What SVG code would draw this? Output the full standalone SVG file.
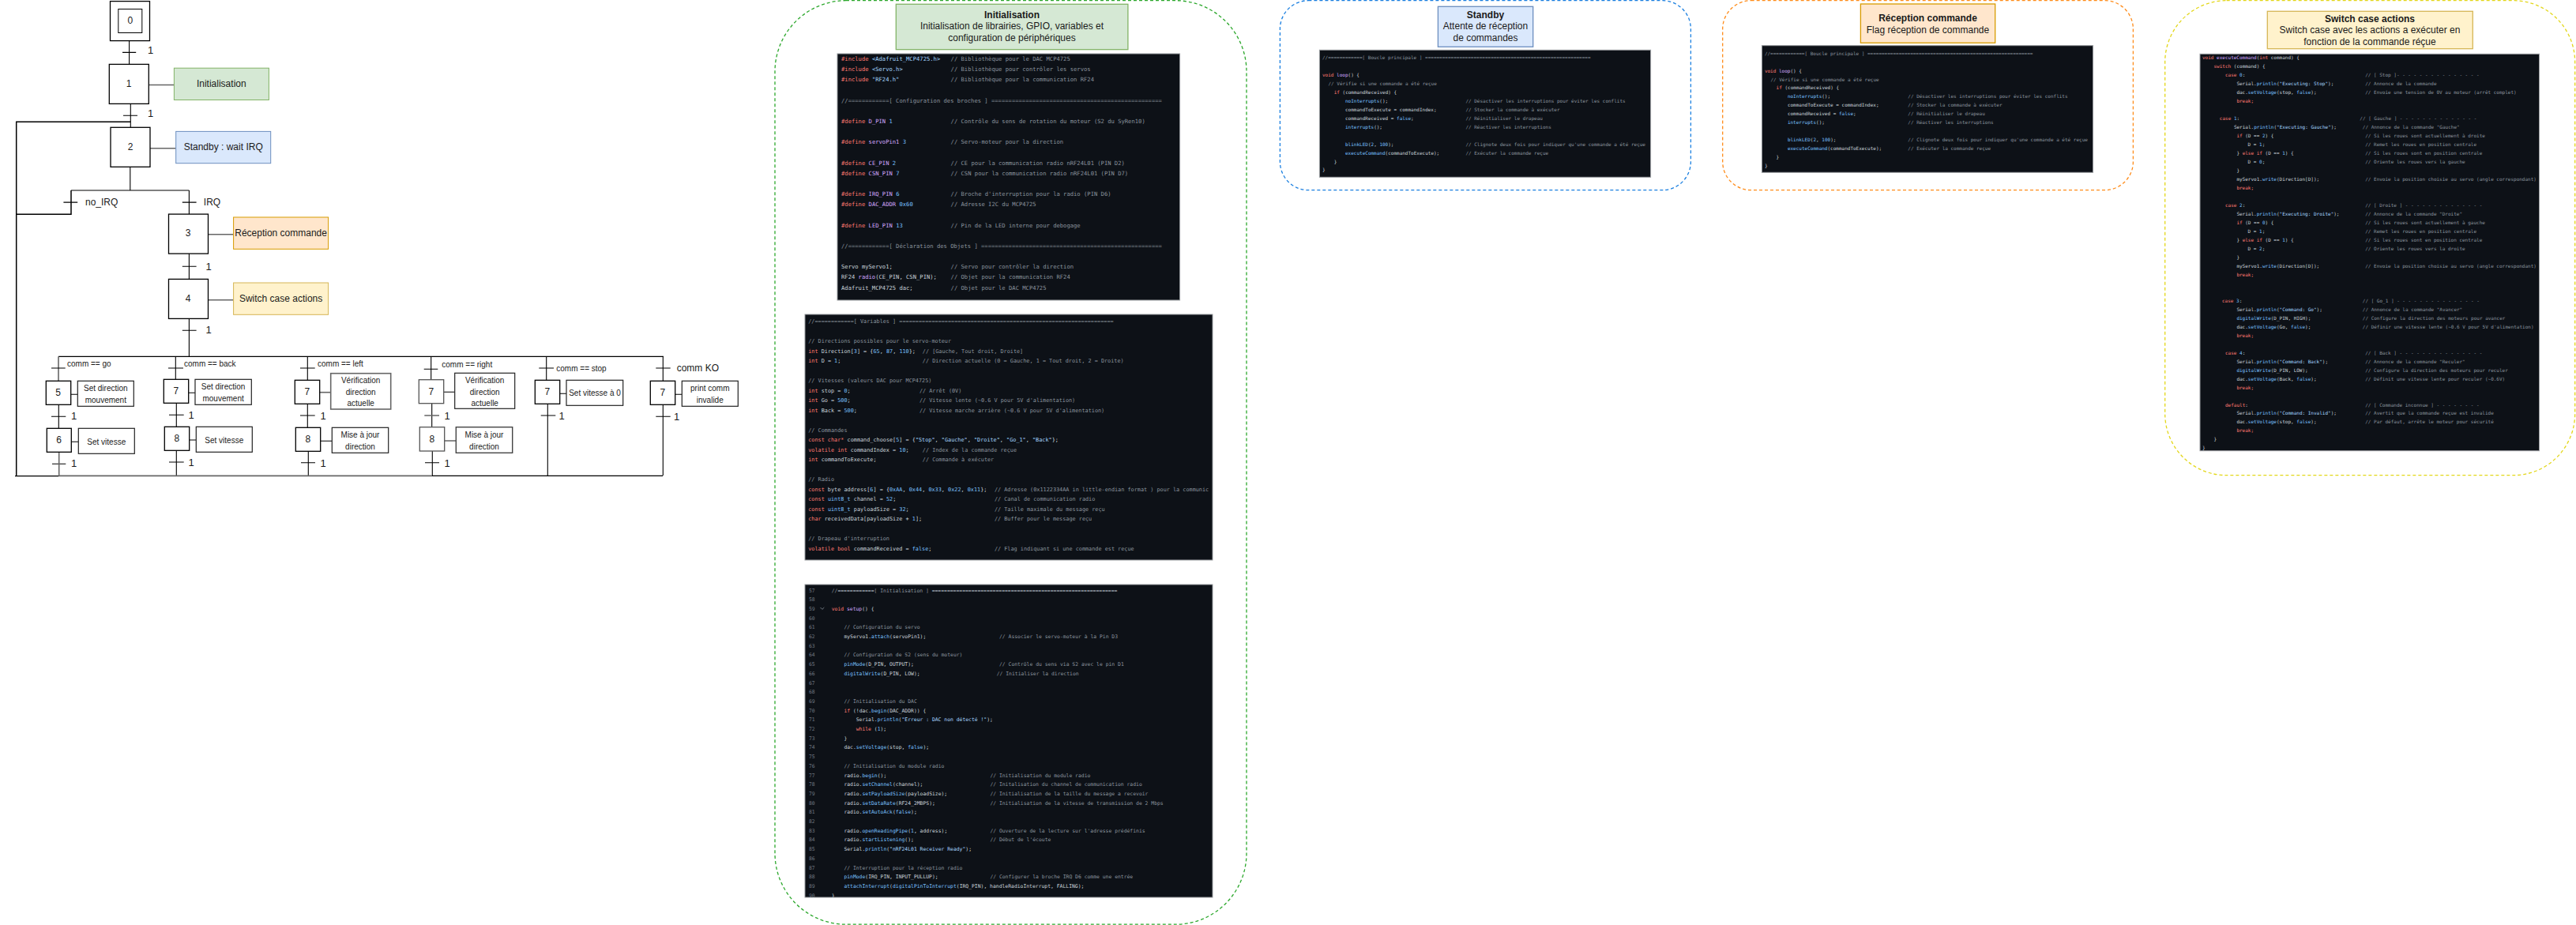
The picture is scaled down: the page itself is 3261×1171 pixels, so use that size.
<svg xmlns="http://www.w3.org/2000/svg" width="3261" height="1171" viewBox="0 0 3261 1171">
<style>
text{font-family:"Liberation Sans",Arial,sans-serif;fill:#1a1a1a}
.sx{fill:#fff;stroke:#000;stroke-width:1.3}
.ax{fill:#fff;stroke:#222;stroke-width:1.2}
.gy{stroke:#666}
.w{fill:none;stroke:#000;stroke-width:1.1}
.wg{fill:none;stroke:#666;stroke-width:1.6}
.t12{font-size:12px;text-anchor:middle}
.t10{font-size:10px;text-anchor:middle}
.l10{font-size:10px}
.l12{font-size:12px}
.l13{font-size:13px}
.b{font-weight:bold}
.grp{fill:none;stroke-width:1.3;stroke-dasharray:4 3}
.cb{fill:#0d1117;stroke:#9a9da1;stroke-width:1}
.m text{font-family:"DejaVu Sans Mono","Liberation Mono",monospace;fill:#c9d1d9}
.m1{font-size:7.18px}.m2{font-size:6.84px}.m3{font-size:6.4px}.m4{font-size:6px}
.m tspan.k,.m text.k{fill:#ff7b72}
.m tspan.f{fill:#d2a8ff}
.m tspan.u{fill:#79c0ff}
.m tspan.s{fill:#a5d6ff}
.m tspan.c,.m text.c{fill:#8b949e}
.m text.ln{fill:#6e7681}
</style>

<g id="connectors">
<path class="w" d="M163.6 51V81.4M155 66.4H172.2"/>
<path class="w" d="M165.3 131V161.3M156 146.2H174"/>
<path class="w" style="stroke-width:1.5" d="M165.3 154.2H20.7V602.3"/>
<path class="w" d="M164.8 211V241M90 241H239.4M239.4 241V271M230.8 256.1H248.6M80.4 256.1H98.2"/>
<path class="w" style="stroke-width:1.5" d="M90 241V271.3H20.7"/>
<path class="w" d="M239.4 321V353.4M230.8 337.2H248.6M239.4 403V451.3M230.8 418.2H248.6"/>
<path class="w" style="stroke-width:1.3" d="M74 451.3H840"/>
<path class="wg" d="M188.3 107.5H220.4M190 187.7H222.7M263.5 296.8H295.6M263.5 379.8H295.6"/>
<path class="wg" d="M74 451.3V482.3"/>
<path class="w" d="M65 466H82.7M74.3 512V542M65 527.3H83.3M89.7 499.3H98.3M90.3 559.3H99.3M66 587.3H83.3"/>
<path class="wg" d="M74.7 572V602"/>
<path class="w" d="M222.3 451.3V480M213 466H232M223.3 510V540M214 525.3H232.7M238.7 497.3H247M239.7 557H248.3M223.3 570V602M214 585H232.7"/>
<path class="w" d="M389.3 451.3V481M380 466H398.7M389.3 511V541M380 526H398.7M405.7 558.3H420.3M390.3 571V602M381 585.7H399"/>
<path class="wg" d="M404.7 496.7H418.7"/>
<path class="w" d="M545.7 451.3V480.7M536.7 467.3H554.3M546.7 510V540.7M561.7 496.3H575.7M547.3 571V602M538 585.7H556"/>
<path class="wg" d="M537.3 526H556M562.7 558H577.3"/>
<path class="w" d="M691.7 451.3V481M682.3 466H701M693.3 511V602M684.7 526H703.3M708.7 498.3H717"/>
<path class="w" d="M839.3 451.3V482M830.3 466H848.7M839.3 512V602M830.3 527.3H848.7M854.7 499.3H863.3"/>
<path class="w" style="stroke-width:1.3" d="M19 602.6H74M547 602.3H839"/>
<path class="wg" d="M74 602.4H547"/>
</g>

<g id="labels" class="l">
<text class="l13" x="187" y="68">1</text>
<text class="l13" x="187" y="148">1</text>
<text class="l12" x="108" y="260">no_IRQ</text>
<text class="l12" x="257.8" y="260">IRQ</text>
<text class="l13" x="260.5" y="342">1</text>
<text class="l13" x="260.5" y="422">1</text>
<text class="l10" x="85" y="464">comm == go</text>
<text class="l10" x="233" y="464">comm == back</text>
<text class="l10" x="402" y="464">comm == left</text>
<text class="l10" x="559.3" y="465">comm == right</text>
<text class="l10" x="704.3" y="469.5">comm == stop</text>
<text class="l12" x="856.7" y="470">comm KO</text>
<text class="l13" x="90" y="531">1</text><text class="l13" x="90" y="591">1</text>
<text class="l13" x="238.5" y="530">1</text><text class="l13" x="238.5" y="589.5">1</text>
<text class="l13" x="405.5" y="530.5">1</text><text class="l13" x="405.5" y="590.5">1</text>
<text class="l13" x="562.5" y="531">1</text><text class="l13" x="562.5" y="590.5">1</text>
<text class="l13" x="707.5" y="531">1</text>
<text class="l13" x="853" y="532">1</text>
</g>

<g id="step0"><rect class="sx" x="139.5" y="1.6" width="50" height="50"/><rect class="sx" style="stroke-width:1" x="149.8" y="11.5" width="30" height="30"/><text class="t12" x="164.8" y="30">0</text></g>
<g id="step1"><rect class="sx" x="138.3" y="81.4" width="50" height="50"/><text class="t12" x="163" y="109.5">1</text></g>
<g id="action-init"><rect fill="#d5e8d4" stroke="#82b366" x="220.4" y="86.2" width="120" height="40.3"/><text class="t12" x="280.3" y="109.5">Initialisation</text></g>
<g id="step2"><rect class="sx" x="140" y="161.3" width="50" height="50"/><text class="t12" x="165" y="189.5">2</text></g>
<g id="action-standby"><rect fill="#dae8fc" stroke="#6c8ebf" x="222.7" y="166.4" width="120" height="40.3"/><text class="t12" x="282.7" y="190">Standby : wait IRQ</text></g>
<g id="step3"><rect class="sx" x="213.5" y="271.1" width="50" height="50"/><text class="t12" x="238" y="299">3</text></g>
<g id="action-reception"><rect fill="#ffe6cc" stroke="#d79b00" x="295.6" y="275" width="120" height="40.3"/><text class="t12" x="355.6" y="298.5">Réception commande</text></g>
<g id="step4"><rect class="sx" x="213.5" y="353.4" width="50" height="50"/><text class="t12" x="238" y="381.5">4</text></g>
<g id="action-switch"><rect fill="#fff2cc" stroke="#d6b656" x="295.6" y="358" width="120" height="40.3"/><text class="t12" x="355.6" y="381.5">Switch case actions</text></g>

<g id="step5"><rect class="sx" x="58.3" y="482.3" width="31.4" height="30"/><text class="t12" x="73.5" y="501">5</text></g>
<g id="act5"><rect class="ax" x="98.3" y="482.3" width="71" height="32"/><text class="t10" x="133.8" y="495">Set direction</text><text class="t10" x="133.8" y="510">mouvement</text></g>
<g id="step6"><rect class="sx" x="59.3" y="542.3" width="31" height="30"/><text class="t12" x="74.5" y="561">6</text></g>
<g id="act6"><rect class="ax" x="99.3" y="542.3" width="71" height="32"/><text class="t10" x="134.8" y="562.5">Set vitesse</text></g>

<g id="step7a"><rect class="sx" x="207.3" y="480.3" width="31.4" height="30"/><text class="t12" x="222.8" y="499">7</text></g>
<g id="act7a"><rect class="ax" x="247" y="480.3" width="71.3" height="32"/><text class="t10" x="282.6" y="493">Set direction</text><text class="t10" x="282.6" y="508">mouvement</text></g>
<g id="step8a"><rect class="sx" x="208.3" y="540.3" width="31.4" height="30"/><text class="t12" x="223.8" y="559">8</text></g>
<g id="act8a"><rect class="ax" x="248.3" y="540.3" width="71" height="32"/><text class="t10" x="283.8" y="560.5">Set vitesse</text></g>

<g id="step7b"><rect class="sx" x="373.3" y="481.3" width="31.4" height="30"/><text class="t12" x="388.8" y="500">7</text></g>
<g id="act7b"><rect class="ax" style="stroke:#666;stroke-width:1.6" x="418.7" y="472.7" width="76" height="45.3"/><text class="t10" x="456.7" y="485">Vérification</text><text class="t10" x="456.7" y="499.5">direction</text><text class="t10" x="456.7" y="514">actuelle</text></g>
<g id="step8b"><rect class="sx" x="374.3" y="541.3" width="31.4" height="30"/><text class="t12" x="389.8" y="560">8</text></g>
<g id="act8b"><rect class="ax" x="420.3" y="541.3" width="71.4" height="32"/><text class="t10" x="456" y="554">Mise à jour</text><text class="t10" x="456" y="569">direction</text></g>

<g id="step7c"><rect class="sx" style="stroke:#555" x="530.3" y="480.7" width="31.4" height="30"/><text class="t12" x="545.8" y="500">7</text></g>
<g id="act7c"><rect class="ax" x="575.7" y="472.3" width="76" height="45"/><text class="t10" x="613.7" y="485">Vérification</text><text class="t10" x="613.7" y="499.5">direction</text><text class="t10" x="613.7" y="514">actuelle</text></g>
<g id="step8c"><rect class="sx" style="stroke:#555" x="531.3" y="540.7" width="31.4" height="30.3"/><text class="t12" x="546.8" y="560">8</text></g>
<g id="act8c"><rect class="ax" style="stroke:#444;stroke-width:1.4" x="577.3" y="540.7" width="71.4" height="32.6"/><text class="t10" x="613" y="554">Mise à jour</text><text class="t10" x="613" y="569">direction</text></g>

<g id="step7d"><rect class="sx" x="677.3" y="481.3" width="31.4" height="30"/><text class="t12" x="692.8" y="500">7</text></g>
<g id="act7d"><rect class="ax" x="717" y="481.3" width="71.7" height="32"/><text class="t10" x="753" y="501">Set vitesse à 0</text></g>

<g id="step7e"><rect class="sx" x="823.3" y="482.3" width="31.4" height="30"/><text class="t12" x="838.8" y="501">7</text></g>
<g id="act7e"><rect class="ax" x="863.3" y="482.3" width="71" height="32"/><text class="t10" x="898.8" y="495">print comm</text><text class="t10" x="898.8" y="510">invalide</text></g>

<g id="group-init">
<rect class="grp" stroke="#2da82d" x="981" y="0.7" width="597" height="1169.5" rx="90" ry="90"/>
<rect fill="#d5e8d4" stroke="#82b366" stroke-width="1.3" x="1134.3" y="5.3" width="293.6" height="57.4"/>
<text class="t12 b" x="1281" y="23">Initialisation</text>
<text class="t12" x="1281" y="37">Initialisation de librairies, GPIO, variables et</text>
<text class="t12" x="1281" y="52">configuration de périphériques</text>
<rect class="cb" x="1060" y="68" width="433.6" height="312"/>
<g class="m m1" transform="translate(1065 76.9)">
<text y="0"><tspan class="k">#include</tspan> <tspan class="s">&lt;Adafruit_MCP4725.h&gt;</tspan><tspan class="c" x="138.6">// Bibliothèque pour le DAC MCP4725</tspan></text>
<text y="13.17"><tspan class="k">#include</tspan> <tspan class="s">&lt;Servo.h&gt;</tspan><tspan class="c" x="138.6">// Bibliothèque pour contrôler les servos</tspan></text>
<text y="26.34"><tspan class="k">#include</tspan> <tspan class="s">"RF24.h"</tspan><tspan class="c" x="138.6">// Bibliothèque pour la communication RF24</tspan></text>
<text class="c" y="52.68">//============[ Configuration des broches ] ==================================================</text>
<text y="79"><tspan class="k">#define</tspan> <tspan class="f">D_PIN</tspan> <tspan class="u">1</tspan><tspan class="c" x="138.6">// Contrôle du sens de rotation du moteur (S2 du SyRen10)</tspan></text>
<text y="105.36"><tspan class="k">#define</tspan> <tspan class="f">servoPin1</tspan> <tspan class="u">3</tspan><tspan class="c" x="138.6">// Servo-moteur pour la direction</tspan></text>
<text y="131.7"><tspan class="k">#define</tspan> <tspan class="f">CE_PIN</tspan> <tspan class="u">2</tspan><tspan class="c" x="138.6">// CE pour la communication radio nRF24L01 (PIN D2)</tspan></text>
<text y="144.87"><tspan class="k">#define</tspan> <tspan class="f">CSN_PIN</tspan> <tspan class="u">7</tspan><tspan class="c" x="138.6">// CSN pour la communication radio nRF24L01 (PIN D7)</tspan></text>
<text y="171.2"><tspan class="k">#define</tspan> <tspan class="f">IRQ_PIN</tspan> <tspan class="u">6</tspan><tspan class="c" x="138.6">// Broche d'interruption pour la radio (PIN D6)</tspan></text>
<text y="184.4"><tspan class="k">#define</tspan> <tspan class="f">DAC_ADDR</tspan> <tspan class="u">0x60</tspan><tspan class="c" x="138.6">// Adresse I2C du MCP4725</tspan></text>
<text y="210.7"><tspan class="k">#define</tspan> <tspan class="f">LED_PIN</tspan> <tspan class="u">13</tspan><tspan class="c" x="138.6">// Pin de la LED interne pour debogage</tspan></text>
<text class="c" y="237">//============[ Déclaration des Objets ] =====================================================</text>
<text y="263.4">Servo myServo1;<tspan class="c" x="138.6">// Servo pour contrôler la direction</tspan></text>
<text y="276.6">RF24 <tspan class="f">radio</tspan>(CE_PIN, CSN_PIN);<tspan class="c" x="138.6">// Objet pour la communication RF24</tspan></text>
<text y="289.7">Adafruit_MCP4725 dac;<tspan class="c" x="138.6">// Objet pour le DAC MCP4725</tspan></text>
</g>
<rect class="cb" x="1019" y="398" width="516" height="311"/>
<g class="m m2" transform="translate(1023.2 409.1)">
<text class="c" y="0">//============[ Variables ] ==================================================================</text>
<text class="c" y="25">// Directions possibles pour le servo-moteur</text>
<text y="37.5"><tspan class="k">int</tspan> Direction[<tspan class="u">3</tspan>] = {<tspan class="u">65</tspan>, <tspan class="u">87</tspan>, <tspan class="u">110</tspan>};<tspan class="c" x="144.6">// [Gauche, Tout droit, Droite]</tspan></text>
<text y="50"><tspan class="k">int</tspan> D = <tspan class="u">1</tspan>;<tspan class="c" x="144.6">// Direction actuelle (0 = Gauche, 1 = Tout droit, 2 = Droite)</tspan></text>
<text class="c" y="75">// Vitesses (valeurs DAC pour MCP4725)</text>
<text y="87.5"><tspan class="k">int</tspan> stop = <tspan class="u">0</tspan>;<tspan class="c" x="140.7">// Arrêt (0V)</tspan></text>
<text y="100"><tspan class="k">int</tspan> Go = <tspan class="u">500</tspan>;<tspan class="c" x="140.7">// Vitesse lente (~0.6 V pour 5V d'alimentation)</tspan></text>
<text y="112.5"><tspan class="k">int</tspan> Back = <tspan class="u">500</tspan>;<tspan class="c" x="140.7">// Vitesse marche arrière (~0.6 V pour 5V d'alimentation)</tspan></text>
<text class="c" y="137.5">// Commandes</text>
<text y="150"><tspan class="k">const char*</tspan> command_choose[<tspan class="u">5</tspan>] = {<tspan class="s">"Stop"</tspan>, <tspan class="s">"Gauche"</tspan>, <tspan class="s">"Droite"</tspan>, <tspan class="s">"Go_1"</tspan>, <tspan class="s">"Back"</tspan>};</text>
<text y="162.5"><tspan class="k">volatile int</tspan> commandIndex = <tspan class="u">10</tspan>;<tspan class="c" x="144.6">// Index de la commande reçue</tspan></text>
<text y="175"><tspan class="k">int</tspan> commandToExecute;<tspan class="c" x="144.6">// Commande à exécuter</tspan></text>
<text class="c" y="200">// Radio</text>
<text y="212.5"><tspan class="k">const</tspan> byte address[<tspan class="u">6</tspan>] = {<tspan class="u">0xAA</tspan>, <tspan class="u">0x44</tspan>, <tspan class="u">0x33</tspan>, <tspan class="u">0x22</tspan>, <tspan class="u">0x11</tspan>};<tspan class="c" x="235.7">// Adresse (0x1122334AA in little-endian format ) pour la communic</tspan></text>
<text y="225"><tspan class="k">const</tspan> <tspan class="u">uint8_t</tspan> channel = <tspan class="u">52</tspan>;<tspan class="c" x="235.7">// Canal de communication radio</tspan></text>
<text y="237.5"><tspan class="k">const</tspan> <tspan class="u">uint8_t</tspan> payloadSize = <tspan class="u">32</tspan>;<tspan class="c" x="235.7">// Taille maximale du message reçu</tspan></text>
<text y="250"><tspan class="k">char</tspan> receivedData[payloadSize + <tspan class="u">1</tspan>];<tspan class="c" x="235.7">// Buffer pour le message reçu</tspan></text>
<text class="c" y="275">// Drapeau d'interruption</text>
<text y="287.5"><tspan class="k">volatile bool</tspan> commandReceived = <tspan class="u">false</tspan>;<tspan class="c" x="235.7">// Flag indiquant si une commande est reçue</tspan></text>
</g>
<rect class="cb" x="1019" y="740" width="516" height="396"/>
<g class="m m3" transform="translate(1052.7 749.6)">
<text class="ln" x="-28.7" y="0">57</text><text class="c" y="0">//============[ Initialisation ] =============================================================</text>
<text class="ln" x="-28.7" y="11.7">58</text>
<text class="ln" x="-28.7" y="23.4">59</text><text y="23.4"><tspan class="k">void</tspan> <tspan class="f">setup</tspan>() {</text>
<text class="ln" x="-28.7" y="35.1">60</text>
<text class="ln" x="-28.7" y="46.8">61</text><text class="c" x="15.7" y="46.8">// Configuration du servo</text>
<text class="ln" x="-28.7" y="58.5">62</text><text x="15.7" y="58.5">myServo1.<tspan class="u">attach</tspan>(servoPin1);<tspan class="c" x="212.3">// Associer le servo-moteur à la Pin D3</tspan></text>
<text class="ln" x="-28.7" y="70.2">63</text>
<text class="ln" x="-28.7" y="81.9">64</text><text class="c" x="15.7" y="81.9">// Configuration de S2 (sens du moteur)</text>
<text class="ln" x="-28.7" y="93.6">65</text><text x="15.7" y="93.6"><tspan class="u">pinMode</tspan>(D_PIN, OUTPUT);<tspan class="c" x="212.3">// Contrôle du sens via S2 avec le pin D1</tspan></text>
<text class="ln" x="-28.7" y="105.3">66</text><text x="15.7" y="105.3"><tspan class="u">digitalWrite</tspan>(D_PIN, LOW);<tspan class="c" x="209">// Initialiser la direction</tspan></text>
<text class="ln" x="-28.7" y="117">67</text>
<text class="ln" x="-28.7" y="128.7">68</text>
<text class="ln" x="-28.7" y="140.4">69</text><text class="c" x="15.7" y="140.4">// Initialisation du DAC</text>
<text class="ln" x="-28.7" y="152.1">70</text><text x="15.7" y="152.1"><tspan class="k">if</tspan> (!dac.<tspan class="u">begin</tspan>(DAC_ADDR)) {</text>
<text class="ln" x="-28.7" y="163.8">71</text><text x="31" y="163.8">Serial.<tspan class="u">println</tspan>(<tspan class="s">"Erreur : DAC non détecté !"</tspan>);</text>
<text class="ln" x="-28.7" y="175.5">72</text><text x="31" y="175.5"><tspan class="k">while</tspan> (<tspan class="u">1</tspan>);</text>
<text class="ln" x="-28.7" y="187.2">73</text><text x="15.7" y="187.2">}</text>
<text class="ln" x="-28.7" y="198.9">74</text><text x="15.7" y="198.9">dac.<tspan class="u">setVoltage</tspan>(stop, <tspan class="u">false</tspan>);</text>
<text class="ln" x="-28.7" y="210.6">75</text>
<text class="ln" x="-28.7" y="222.3">76</text><text class="c" x="15.7" y="222.3">// Initialisation du module radio</text>
<text class="ln" x="-28.7" y="234">77</text><text x="15.7" y="234">radio.<tspan class="u">begin</tspan>();<tspan class="c" x="200.7">// Initialisation du module radio</tspan></text>
<text class="ln" x="-28.7" y="245.7">78</text><text x="15.7" y="245.7">radio.<tspan class="u">setChannel</tspan>(channel);<tspan class="c" x="200.7">// Initalisation du channel de communication radio</tspan></text>
<text class="ln" x="-28.7" y="257.4">79</text><text x="15.7" y="257.4">radio.<tspan class="u">setPayloadSize</tspan>(payloadSize);<tspan class="c" x="200.7">// Initialisation de la taille du message a recevoir</tspan></text>
<text class="ln" x="-28.7" y="269.1">80</text><text x="15.7" y="269.1">radio.<tspan class="u">setDataRate</tspan>(RF24_2MBPS);<tspan class="c" x="200.7">// Initialisation de la vitesse de transmission de 2 Mbps</tspan></text>
<text class="ln" x="-28.7" y="280.8">81</text><text x="15.7" y="280.8">radio.<tspan class="u">setAutoAck</tspan>(<tspan class="u">false</tspan>);</text>
<text class="ln" x="-28.7" y="292.5">82</text>
<text class="ln" x="-28.7" y="304.2">83</text><text x="15.7" y="304.2">radio.<tspan class="u">openReadingPipe</tspan>(<tspan class="u">1</tspan>, address);<tspan class="c" x="200.7">// Ouverture de la lecture sur l'adresse prédéfinis</tspan></text>
<text class="ln" x="-28.7" y="315.9">84</text><text x="15.7" y="315.9">radio.<tspan class="u">startListening</tspan>();<tspan class="c" x="200.7">// Début de l'écoute</tspan></text>
<text class="ln" x="-28.7" y="327.6">85</text><text x="15.7" y="327.6">Serial.<tspan class="u">println</tspan>(<tspan class="s">"nRF24L01 Receiver Ready"</tspan>);</text>
<text class="ln" x="-28.7" y="339.3">86</text>
<text class="ln" x="-28.7" y="351">87</text><text class="c" x="15.7" y="351">// Interruption pour la réception radio</text>
<text class="ln" x="-28.7" y="362.7">88</text><text x="15.7" y="362.7"><tspan class="u">pinMode</tspan>(IRQ_PIN, INPUT_PULLUP);<tspan class="c" x="200.7">// Configurer la broche IRQ D6 comme une entrée</tspan></text>
<text class="ln" x="-28.7" y="374.4">89</text><text x="15.7" y="374.4"><tspan class="u">attachInterrupt</tspan>(<tspan class="u">digitalPinToInterrupt</tspan>(IRQ_PIN), handleRadioInterrupt, FALLING);</text>
<text class="ln" x="-28.7" y="386">90</text><text y="386">}</text>
</g>
<path d="M1038.5 769l2.4 2.4 2.4-2.4" fill="none" stroke="#8b949e" stroke-width=".8"/>
</g>

<g id="group-standby">
<rect class="grp" stroke="#1a7fe0" x="1620.4" y="0.7" width="520" height="240" rx="36" ry="36"/>
<rect fill="#dae8fc" stroke="#6c8ebf" stroke-width="1.3" x="1820.4" y="8.3" width="120.3" height="51"/>
<text class="t12 b" x="1880.5" y="23">Standby</text>
<text class="t12" x="1880.5" y="37">Attente de réception</text>
<text class="t12" x="1880.5" y="52">de commandes</text>
<rect class="cb" x="1670.4" y="63.3" width="419.2" height="161"/>
<g class="m m4" transform="translate(1674 75.4)">
<text class="c" y="0">//============[ Boucle principale ] ==========================================================</text>
<text y="21.9"><tspan class="k">void</tspan> <tspan class="f">loop</tspan>() {</text>
<text class="c" x="7.5" y="32.8">// Vérifie si une commande a été reçue</text>
<text x="14.7" y="43.7"><tspan class="k">if</tspan> (commandReceived) {</text>
<text x="29" y="54.7"><tspan class="u">noInterrupts</tspan>();<tspan class="c" x="181.4">// Désactiver les interruptions pour éviter les conflits</tspan></text>
<text x="29" y="65.6">commandToExecute = commandIndex;<tspan class="c" x="181.4">// Stocker la commande à exécuter</tspan></text>
<text x="29" y="76.5">commandReceived = <tspan class="u">false</tspan>;<tspan class="c" x="181.4">// Réinitialiser le drapeau</tspan></text>
<text x="29" y="87.5"><tspan class="u">interrupts</tspan>();<tspan class="c" x="181.4">// Réactiver les interruptions</tspan></text>
<text x="29" y="109.3"><tspan class="u">blinkLED</tspan>(<tspan class="u">2</tspan>, <tspan class="u">100</tspan>);<tspan class="c" x="181.4">// Clignote deux fois pour indiquer qu'une commande a été reçue</tspan></text>
<text x="29" y="120.3"><tspan class="u">executeCommand</tspan>(commandToExecute);<tspan class="c" x="181.4">// Exécuter la commande reçue</tspan></text>
<text x="14.7" y="131.2">}</text>
<text y="142.1">}</text>
</g>
</g>

<g id="group-reception">
<rect class="grp" stroke="#ff8c1a" x="2180.7" y="0.7" width="519.7" height="240" rx="36" ry="36"/>
<rect fill="#ffe6cc" stroke="#d79b00" stroke-width="1.3" x="2355.4" y="5" width="170.3" height="49.3"/>
<text class="t12 b" x="2440.5" y="27">Réception commande</text>
<text class="t12" x="2440.5" y="42">Flag réception de commande</text>
<rect class="cb" x="2230.4" y="57.7" width="419.2" height="160.6"/>
<g class="m m4" transform="translate(2233.9 69.8)">
<text class="c" y="0">//============[ Boucle principale ] ==========================================================</text>
<text y="21.9"><tspan class="k">void</tspan> <tspan class="f">loop</tspan>() {</text>
<text class="c" x="7.5" y="32.8">// Vérifie si une commande a été reçue</text>
<text x="14.7" y="43.7"><tspan class="k">if</tspan> (commandReceived) {</text>
<text x="29" y="54.7"><tspan class="u">noInterrupts</tspan>();<tspan class="c" x="181.4">// Désactiver les interruptions pour éviter les conflits</tspan></text>
<text x="29" y="65.6">commandToExecute = commandIndex;<tspan class="c" x="181.4">// Stocker la commande à exécuter</tspan></text>
<text x="29" y="76.5">commandReceived = <tspan class="u">false</tspan>;<tspan class="c" x="181.4">// Réinitialiser le drapeau</tspan></text>
<text x="29" y="87.5"><tspan class="u">interrupts</tspan>();<tspan class="c" x="181.4">// Réactiver les interruptions</tspan></text>
<text x="29" y="109.3"><tspan class="u">blinkLED</tspan>(<tspan class="u">2</tspan>, <tspan class="u">100</tspan>);<tspan class="c" x="181.4">// Clignote deux fois pour indiquer qu'une commande a été reçue</tspan></text>
<text x="29" y="120.3"><tspan class="u">executeCommand</tspan>(commandToExecute);<tspan class="c" x="181.4">// Exécuter la commande reçue</tspan></text>
<text x="14.7" y="131.2">}</text>
<text y="142.1">}</text>
</g>
</g>

<g id="group-switch">
<rect class="grp" stroke="#e3d71a" x="2740.7" y="0.7" width="519" height="601" rx="78" ry="78"/>
<rect fill="#fff2cc" stroke="#d6b656" stroke-width="1.3" x="2870.3" y="14.3" width="260" height="47.4"/>
<text class="t12 b" x="3000" y="27.5">Switch case actions</text>
<text class="t12" x="3000" y="42">Switch case avec les actions a exécuter en</text>
<text class="t12" x="3000" y="57">fonction de la commande réçue</text>
<rect class="cb" x="2785" y="68.3" width="429.5" height="502.4"/>
<g class="m m4" transform="translate(2788 75.4)">
<text y="0"><tspan class="k">void</tspan> <tspan class="f">executeCommand</tspan>(<tspan class="k">int</tspan> command) {</text>
<text x="14.5" y="11"><tspan class="k">switch</tspan> (command) {</text>
<text x="29" y="22"><tspan class="k">case</tspan> <tspan class="u">0</tspan>:<tspan class="c" x="206.2">// [ Stop ]- - - - - - - - - - - - - - -</tspan></text>
<text x="43.4" y="32.9">Serial.<tspan class="u">println</tspan>(<tspan class="s">"Executing: Stop"</tspan>);<tspan class="c" x="206.2">// Annonce de la commande</tspan></text>
<text x="43.4" y="43.9">dac.<tspan class="u">setVoltage</tspan>(stop, <tspan class="u">false</tspan>);<tspan class="c" x="206.2">// Envoie une tension de 0V au moteur (arrêt complet)</tspan></text>
<text class="k" x="43.4" y="54.9">break;</text>
<text x="21.8" y="76.9"><tspan class="k">case</tspan> <tspan class="u">1</tspan>:<tspan class="c" x="199.3">// [ Gauche ] - - - - - - - - - - - - - -</tspan></text>
<text x="39.9" y="87.8">Serial.<tspan class="u">println</tspan>(<tspan class="s">"Executing: Gauche"</tspan>);<tspan class="c" x="202.8">// Annonce de la commande "Gauche"</tspan></text>
<text x="43.4" y="98.8"><tspan class="k">if</tspan> (D == <tspan class="u">2</tspan>) {<tspan class="c" x="206.2">// Si les roues sont actuellement à droite</tspan></text>
<text x="57.6" y="109.8">D = <tspan class="u">1</tspan>;<tspan class="c" x="206.2">// Remet les roues en position centrale</tspan></text>
<text x="43.4" y="120.8">} <tspan class="k">else if</tspan> (D == <tspan class="u">1</tspan>) {<tspan class="c" x="206.2">// Si les roues sont en position centrale</tspan></text>
<text x="57.6" y="131.8">D = <tspan class="u">0</tspan>;<tspan class="c" x="206.2">// Oriente les roues vers la gauche</tspan></text>
<text x="43.4" y="142.7">}</text>
<text x="43.4" y="153.7">myServo1.<tspan class="u">write</tspan>(Direction[D]);<tspan class="c" x="206.2">// Envoie la position choisie au servo (angle correspondant)</tspan></text>
<text class="k" x="43.4" y="164.7">break;</text>
<text x="29" y="186.7"><tspan class="k">case</tspan> <tspan class="u">2</tspan>:<tspan class="c" x="206.2">// [ Droite ] - - - - - - - - - - - - - -</tspan></text>
<text x="43.4" y="197.6">Serial.<tspan class="u">println</tspan>(<tspan class="s">"Executing: Droite"</tspan>);<tspan class="c" x="206.2">// Annonce de la commande "Droite"</tspan></text>
<text x="43.4" y="208.6"><tspan class="k">if</tspan> (D == <tspan class="u">0</tspan>) {<tspan class="c" x="206.2">// Si les roues sont actuellement à gauche</tspan></text>
<text x="57.6" y="219.6">D = <tspan class="u">1</tspan>;<tspan class="c" x="206.2">// Remet les roues en position centrale</tspan></text>
<text x="43.4" y="230.6">} <tspan class="k">else if</tspan> (D == <tspan class="u">1</tspan>) {<tspan class="c" x="206.2">// Si les roues sont en position centrale</tspan></text>
<text x="57.6" y="241.6">D = <tspan class="u">2</tspan>;<tspan class="c" x="206.2">// Oriente les roues vers la droite</tspan></text>
<text x="43.4" y="252.5">}</text>
<text x="43.4" y="263.5">myServo1.<tspan class="u">write</tspan>(Direction[D]);<tspan class="c" x="206.2">// Envoie la position choisie au servo (angle correspondant)</tspan></text>
<text class="k" x="43.4" y="274.5">break;</text>
<text x="25" y="307.4"><tspan class="k">case</tspan> <tspan class="u">3</tspan>:<tspan class="c" x="202.8">// [ Go_1 ] - - - - - - - - - - - - - - -</tspan></text>
<text x="43.4" y="318.4">Serial.<tspan class="u">println</tspan>(<tspan class="s">"Command: Go"</tspan>);<tspan class="c" x="202.8">// Annonce de la commande "Avancer"</tspan></text>
<text x="43.4" y="329.4"><tspan class="u">digitalWrite</tspan>(D_PIN, HIGH);<tspan class="c" x="202.8">// Configure la direction des moteurs pour avancer</tspan></text>
<text x="43.4" y="340.4">dac.<tspan class="u">setVoltage</tspan>(Go, <tspan class="u">false</tspan>);<tspan class="c" x="202.8">// Définir une vitesse lente (~0.6 V pour 5V d'alimentation)</tspan></text>
<text class="k" x="43.4" y="351.3">break;</text>
<text x="29" y="373.3"><tspan class="k">case</tspan> <tspan class="u">4</tspan>:<tspan class="c" x="206.2">// [ Back ] - - - - - - - - - - - - - - -</tspan></text>
<text x="43.4" y="384.3">Serial.<tspan class="u">println</tspan>(<tspan class="s">"Command: Back"</tspan>);<tspan class="c" x="206.2">// Annonce de la commande "Reculer"</tspan></text>
<text x="43.4" y="395.2"><tspan class="u">digitalWrite</tspan>(D_PIN, LOW);<tspan class="c" x="206.2">// Configure la direction des moteurs pour reculer</tspan></text>
<text x="43.4" y="406.2">dac.<tspan class="u">setVoltage</tspan>(Back, <tspan class="u">false</tspan>);<tspan class="c" x="206.2">// Définit une vitesse lente pour reculer (~0.6V)</tspan></text>
<text class="k" x="43.4" y="417.2">break;</text>
<text x="29" y="439.2"><tspan class="k">default</tspan>:<tspan class="c" x="206.2">// [ Commande inconnue ] - - - - - - - -</tspan></text>
<text x="43.4" y="450.1">Serial.<tspan class="u">println</tspan>(<tspan class="s">"Command: Invalid"</tspan>);<tspan class="c" x="206.2">// Avertit que la commande reçue est invalide</tspan></text>
<text x="43.4" y="461.1">dac.<tspan class="u">setVoltage</tspan>(stop, <tspan class="u">false</tspan>);<tspan class="c" x="206.2">// Par défaut, arrête le moteur pour sécurité</tspan></text>
<text class="k" x="43.4" y="472.1">break;</text>
<text x="14.5" y="483.1">}</text>
<text y="494.1">}</text>
</g>
</g>
</svg>
